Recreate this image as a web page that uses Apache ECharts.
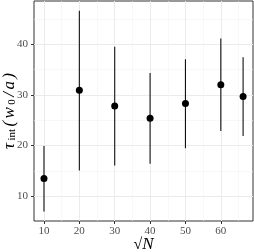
<!DOCTYPE html>
<html><head><meta charset="utf-8">
<script src="https://cdn.jsdelivr.net/npm/echarts@6/dist/echarts.min.js"></script>
<style>html,body{margin:0;padding:0;background:#fff}#c{width:254px;height:252px}</style>
</head><body><div id="c"></div>
<script>
const sqrtN = [10, 20, 30, 40, 50, 60, 66.3];
const tauInt = [13.5, 30.9, 27.8, 25.4, 28.3, 32.0, 29.7];
const tauLow = [7.0, 15.1, 16.1, 16.4, 19.5, 22.9, 21.9];
const tauHigh = [19.9, 46.6, 39.5, 34.3, 37.0, 41.1, 37.4];
const xMajor = [10, 20, 30, 40, 50, 60];
const xMinor = [15, 25, 35, 45, 55, 65];
const yMajor = [10, 20, 30, 40];
const yMinor = [15, 25, 35, 45];
const xRange = [7.18, 69.1];
const yRange = [5.14, 48.5];

const font = 'Liberation Serif';
const chart = echarts.init(document.getElementById('c'), null, {renderer: 'canvas'});
const pts = sqrtN.map((x, i) => [x, tauInt[i]]);
const bars = sqrtN.map((x, i) => [x, tauLow[i], tauHigh[i]]);
const gridLine = {show: true, lineStyle: {color: '#ebebeb', width: 1}};
const minorLine = {show: true, lineStyle: {color: '#f4f4f4', width: 0.6}};
const P = [0, 1.2, 0, 1.2];
chart.setOption({
  animation: false,
  backgroundColor: '#fff',
  grid: {left: 34, right: 1, top: 1, bottom: 31, containLabel: false, outerBoundsMode: 'none',
         show: true, borderColor: '#333', borderWidth: 1, backgroundColor: 'transparent'},
  xAxis: [
    {type: 'value', min: xRange[0], max: xRange[1], position: 'bottom',
     name: '{r|√}{i|N}', nameLocation: 'middle', nameGap: 15, nameMoveOverlap: false,
     nameTextStyle: {rich: {r: {fontFamily: font, fontSize: 16, color: '#000'}, i: {fontFamily: font, fontStyle: 'italic', fontSize: 17, color: '#000'}}},
     axisLine: {show: false},
     axisTick: {show: true, length: 3, lineStyle: {color: '#333'}, customValues: xMajor},
     axisLabel: {customValues: xMajor, fontFamily: font, fontSize: 11, color: '#4d4d4d', margin: 5},
     splitLine: gridLine},
    {type: 'value', min: xRange[0], max: xRange[1], position: 'bottom', show: true,
     axisLine: {show: false}, axisLabel: {show: false},
     axisTick: {show: false, customValues: xMinor}, splitLine: minorLine}
  ],
  yAxis: [
    {type: 'value', min: yRange[0], max: yRange[1], position: 'left',
     name: '{t|τ}{s|int}{t|(}{i|w}{s|0}{t|/}{i|a}{t|)}', nameLocation: 'middle', nameGap: 16, nameRotate: 90,
     nameMoveOverlap: false,
     nameTextStyle: {rich: {
       t: {fontFamily: font, fontSize: 17, color: '#000', fontStyle: 'italic', lineHeight: 16, padding: P},
       i: {fontFamily: font, fontSize: 17, color: '#000', fontStyle: 'italic', lineHeight: 16, padding: P},
       s: {fontFamily: font, fontSize: 11, color: '#000', verticalAlign: 'bottom', lineHeight: 16, padding: [5, 1.2, 0, 1.2]}
     }},
     axisLine: {show: false},
     axisTick: {show: true, length: 3, lineStyle: {color: '#333'}, customValues: yMajor},
     axisLabel: {customValues: yMajor, fontFamily: font, fontSize: 11, color: '#4d4d4d', margin: 6},
     splitLine: gridLine},
    {type: 'value', min: yRange[0], max: yRange[1], position: 'left', show: true,
     axisLine: {show: false}, axisLabel: {show: false},
     axisTick: {show: false, customValues: yMinor}, splitLine: minorLine}
  ],
  series: [
    {type: 'custom', xAxisIndex: 0, yAxisIndex: 0, data: bars, z: 3,
     renderItem: (params, api) => {
       const a = api.coord([api.value(0), api.value(1)]);
       const b = api.coord([api.value(0), api.value(2)]);
       return {type: 'line', shape: {x1: a[0], y1: a[1], x2: b[0], y2: b[1]}, style: {stroke: '#111', lineWidth: 1.1}};
     }},
    {type: 'scatter', xAxisIndex: 0, yAxisIndex: 0, data: pts, symbolSize: 7, z: 4,
     itemStyle: {color: '#000', opacity: 1}}
  ]
});
</script></body></html>
